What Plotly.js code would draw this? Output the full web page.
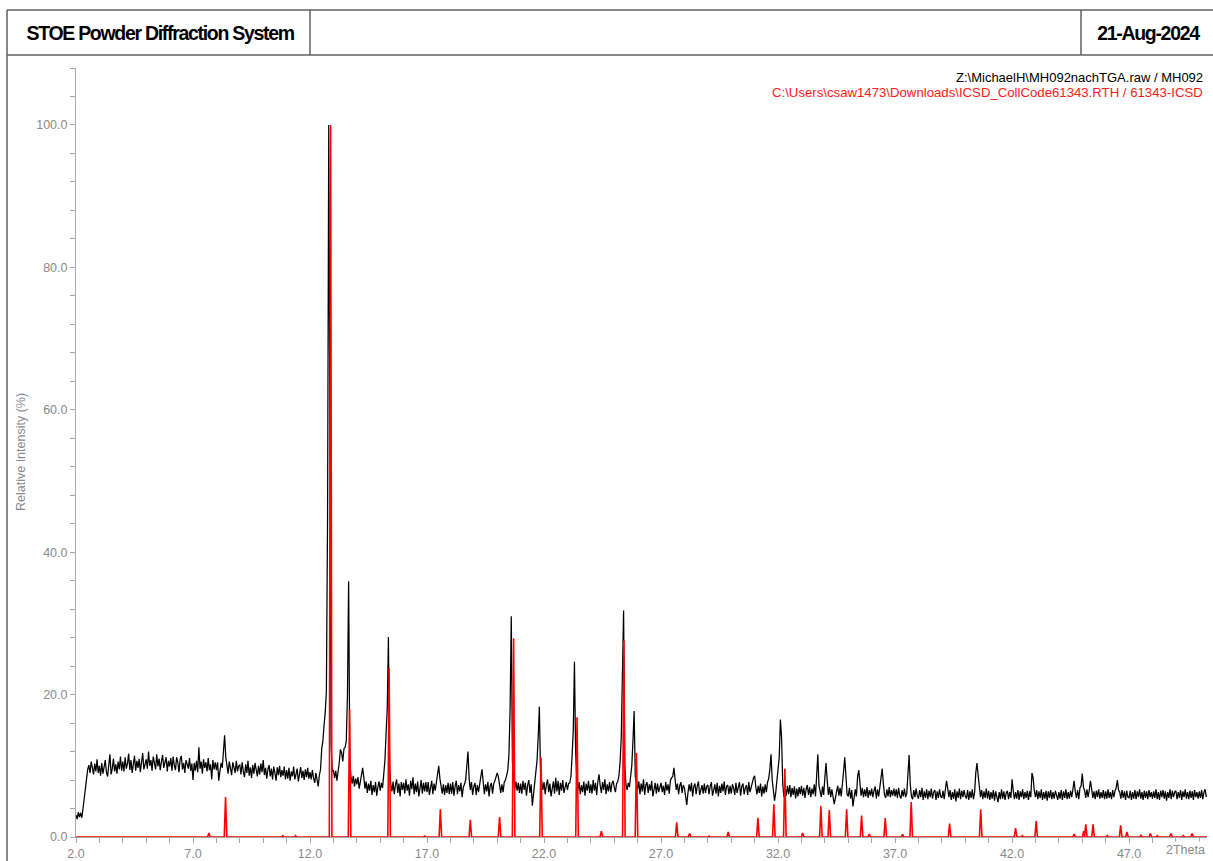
<!DOCTYPE html>
<html>
<head>
<meta charset="utf-8">
<script src="https://cdn.plot.ly/plotly-3.0.1.min.js"></script>
<style>html,body{margin:0;padding:0;background:#fff;}#chart{width:1213px;height:861px;}</style>
</head>
<body>
<div id="chart"></div>
<script>
// ---- Data ----
// Measured pattern (black): 2Theta grid start / step, relative intensity values
const measStart = 2.0;
const measStep = 0.05;
const measIntensity = [
/* 2 */ 3.1,2.5,3.5,2.8,3.4,2.7,4.0,5.4,7.0,8.3,9.5,10.1,9.0,10.6,9.4,8.8,10.3,9.2,10.9,9.0,
/* 3 */ 10.0,8.6,10.4,8.9,9.8,10.8,9.1,8.5,10.1,11.6,8.8,9.6,11.0,9.2,10.2,8.9,10.6,9.5,11.3,9.3,
/* 4 */ 10.6,9.2,11.2,9.6,10.3,11.7,9.4,10.8,9.0,10.1,11.4,9.3,10.7,9.7,11.0,9.1,10.4,11.8,9.5,10.2,
/* 5 */ 10.9,9.6,12.0,10.0,10.8,9.3,11.3,10.4,9.5,11.6,9.9,11.0,9.4,10.6,11.5,9.7,10.3,11.2,9.2,10.7,
/* 6 */ 9.9,11.1,9.3,11.3,10.1,9.4,11.2,10.5,9.1,10.9,11.4,9.5,10.4,9.0,10.8,10.0,9.6,11.1,9.3,10.3,
/* 7 */ 8.0,10.4,9.3,10.7,9.1,12.6,9.6,10.6,8.9,10.9,9.7,10.5,9.2,11.1,9.4,10.2,8.1,10.8,9.5,10.5,
/* 8 */ 9.4,10.5,7.9,9.2,10.4,9.7,11.5,14.3,11.2,10.0,8.9,10.6,9.4,8.7,10.5,9.5,9.0,10.7,9.2,10.0,
/* 9 */ 10.1,8.8,10.5,9.2,8.4,10.2,9.0,10.7,8.6,9.8,8.3,10.1,8.9,10.4,9.4,8.5,10.0,8.8,10.3,9.1,
/*10 */ 10.8,8.7,9.7,8.2,9.5,10.1,8.5,9.6,8.1,9.9,9.0,7.9,9.8,8.7,10.0,8.4,9.4,8.6,9.9,8.1,
/*11 */ 9.4,8.2,9.7,7.9,9.2,8.5,9.9,8.1,8.8,9.6,7.8,9.0,9.8,8.3,9.3,8.0,9.5,8.4,9.7,8.2,
/*12 */ 9.1,8.1,9.4,8.3,7.6,9.0,8.0,7.1,8.7,9.5,12.4,13.5,15.7,17.5,20.5,45.0,100.0,48.0,13.0,9.2,
/*13 */ 9.4,8.3,9.3,7.9,9.0,10.5,12.3,11.8,10.6,12.4,12.6,13.5,20.0,35.9,11.0,8.4,7.5,8.6,7.1,8.2,
/*14 */ 7.4,8.4,6.8,8.0,8.8,9.7,8.3,6.8,7.8,6.2,7.5,6.5,7.9,5.9,7.3,6.3,7.7,5.8,7.0,7.8,
/*15 */ 6.5,7.6,6.9,8.4,10.7,14.5,18.0,28.1,10.0,7.4,6.4,7.8,6.0,7.3,8.1,6.2,7.5,5.7,7.7,6.6,
/*16 */ 7.6,6.1,8.1,6.5,7.4,5.8,7.9,6.7,8.4,6.0,7.5,6.3,7.8,5.7,7.2,8.0,6.1,7.6,6.4,7.7,
/*17 */ 6.3,7.7,5.9,7.2,7.9,6.0,7.5,6.5,7.8,8.5,10.0,8.2,7.0,6.1,7.4,5.9,7.3,6.2,7.6,6.0,
/*18 */ 7.5,6.1,7.7,5.8,7.1,7.9,6.0,7.3,6.4,7.6,5.6,7.0,7.4,8.0,10.0,12.0,8.2,6.6,7.7,5.9,
/*19 */ 7.1,7.6,5.9,7.3,6.3,7.8,8.5,9.5,7.3,6.0,7.4,6.4,7.7,5.7,7.2,7.6,6.1,7.5,7.9,8.4,
/*20 */ 9.0,8.4,7.0,6.2,7.4,6.3,7.7,8.0,8.6,9.4,11.5,18.0,31.0,10.5,8.0,6.8,7.8,6.5,7.6,6.2,
/*21 */ 7.5,6.1,7.9,6.6,7.6,5.8,7.3,8.0,6.2,7.4,4.4,6.0,7.5,8.8,10.7,14.0,18.3,9.0,7.3,6.6,
/*22 */ 7.7,6.0,7.3,8.1,6.3,7.5,5.7,7.1,7.8,6.1,8.3,6.4,7.9,5.9,7.6,6.5,8.0,6.2,7.2,7.7,
/*23 */ 6.6,7.5,7.6,8.5,11.5,15.0,24.6,12.0,8.0,6.7,7.7,6.0,7.3,6.3,7.8,5.8,7.5,6.5,7.9,6.2,
/*24 */ 7.4,6.1,8.0,6.5,7.6,5.9,7.8,8.8,7.2,6.2,7.7,6.6,8.1,6.0,7.4,6.4,7.7,6.3,7.5,7.9,
/*25 */ 7.0,6.3,7.5,7.8,8.6,10.5,14.0,21.0,31.8,10.0,7.4,6.6,7.6,7.0,8.3,10.0,13.5,17.7,8.5,7.2,
/*26 */ 6.7,7.8,6.0,7.5,6.4,8.1,5.9,7.3,7.7,6.2,7.4,6.5,7.9,5.7,7.1,7.6,6.1,7.5,6.3,7.2,
/*27 */ 7.6,6.3,7.2,5.9,7.7,6.5,7.4,6.1,7.9,8.3,8.5,9.7,7.6,6.6,7.5,6.0,7.2,7.7,6.2,7.3,
/*28 */ 6.9,5.8,4.5,6.2,7.4,6.4,7.6,5.7,7.1,7.5,6.0,7.2,7.8,5.9,6.9,7.3,6.1,7.5,6.2,7.1,
/*29 */ 7.3,6.0,7.1,7.7,5.8,6.9,7.4,6.1,7.6,5.7,7.2,6.2,7.5,6.4,7.8,5.9,7.1,7.3,6.0,7.2,
/*30 */ 6.1,7.4,6.9,5.9,7.6,6.2,7.2,7.7,5.8,7.1,7.5,6.0,6.9,7.3,5.9,7.7,6.3,7.2,7.6,8.3,
/*31 */ 8.6,7.0,6.0,7.2,6.2,7.5,5.7,7.1,6.1,7.4,6.3,7.7,8.2,9.5,11.6,8.0,6.5,5.1,6.2,8.0,
/*32 */ 9.0,11.2,16.5,14.0,7.5,5.6,6.9,5.8,7.2,6.0,7.3,5.6,6.9,5.9,7.1,5.4,6.8,5.7,7.0,6.0,
/*33 */ 7.2,5.8,6.9,5.5,6.7,7.3,5.9,7.0,5.6,6.8,6.0,7.4,5.7,8.5,11.6,7.2,6.1,5.6,7.1,5.9,
/*34 */ 8.3,10.4,8.0,5.9,7.0,5.6,6.7,5.7,4.6,5.5,6.6,7.2,5.8,6.9,5.7,7.2,9.2,11.2,7.8,6.0,
/*35 */ 5.7,6.9,5.4,6.6,4.3,5.5,6.7,5.7,8.5,9.4,7.0,5.8,6.9,5.6,6.7,5.7,7.0,5.5,6.6,5.8,
/*36 */ 6.8,5.6,6.5,7.1,5.4,6.7,5.7,6.9,8.3,9.6,7.5,5.9,5.5,6.7,5.7,7.0,5.6,6.6,5.8,6.8,
/*37 */ 5.7,6.7,5.5,6.9,5.8,5.4,6.6,5.7,6.8,5.6,6.1,8.5,11.5,7.4,5.7,5.3,6.6,5.6,6.8,5.8,
/*38 */ 5.4,6.6,5.6,6.9,5.2,6.4,5.5,6.7,5.3,6.5,5.6,6.8,5.4,6.3,6.6,5.2,6.4,5.5,6.7,5.7,
/*39 */ 5.5,6.5,5.3,6.7,7.9,6.8,5.6,6.6,5.2,6.3,5.4,6.7,5.0,6.4,5.5,6.8,5.3,6.5,5.6,6.6,
/*40 */ 5.7,5.4,6.6,5.2,6.4,5.5,6.7,5.3,6.3,9.0,10.4,8.7,6.8,5.6,6.6,5.3,6.4,5.5,6.8,5.4,
/*41 */ 6.5,5.2,6.3,5.4,6.6,5.1,6.4,5.5,4.9,6.3,5.3,6.7,5.4,6.4,5.2,6.2,6.5,5.3,6.3,5.5,
/*42 */ 8.1,6.5,5.3,6.3,5.4,6.6,5.2,6.4,5.6,6.7,5.3,6.3,5.5,6.5,5.2,6.4,5.6,9.0,8.3,6.5,
/*43 */ 5.6,6.6,5.3,6.4,5.5,6.7,5.2,6.3,5.4,6.5,5.1,6.4,5.5,6.6,5.3,6.3,5.4,6.5,5.6,5.2,
/*44 */ 6.3,5.4,6.6,5.2,6.4,5.5,6.7,5.3,6.3,5.4,6.5,5.6,6.7,7.9,6.4,5.5,6.6,5.3,6.9,7.2,
/*45 */ 8.9,7.0,6.5,5.5,6.7,5.6,6.6,7.9,6.8,5.5,6.4,5.3,6.5,5.6,6.7,5.4,6.3,5.5,6.6,5.3,
/*46 */ 6.4,5.4,6.7,5.5,6.3,5.3,6.6,5.6,6.5,6.9,8.0,6.6,6.3,5.4,6.6,5.5,6.4,5.2,6.5,5.6,
/*47 */ 5.5,6.5,5.2,6.3,5.4,6.6,5.3,6.4,5.6,6.7,5.4,6.3,5.2,6.5,5.5,6.4,5.3,6.6,5.6,6.3,
/*48 */ 5.4,6.4,5.5,6.7,5.3,6.3,5.2,6.5,5.6,6.6,5.4,6.4,5.1,6.3,5.5,6.7,5.3,6.5,5.6,6.3,
/*49 */ 6.5,5.3,6.3,5.5,6.6,5.2,6.4,5.6,6.7,5.4,6.3,5.3,6.5,5.5,6.4,5.2,6.6,5.6,6.3,5.4,
/*50 */ 6.4,5.5,6.6,5.3,6.3,6.7,5.6
];

// Reference pattern (red, ICSD 61343): peak positions (2Theta) and relative intensities
const refPos = [7.68,8.39,10.84,11.38,12.88,13.69,15.38,16.90,17.57,18.85,20.10,20.70,21.87,23.41,24.45,25.41,25.95,
  27.67,28.22,29.06,29.87,31.14,31.82,32.29,33.05,33.83,34.19,34.93,35.57,35.90,36.58,37.32,37.69,39.33,40.66,
  42.15,42.44,43.03,43.72,44.65,45.06,45.15,45.46,46.07,46.64,46.91,47.51,47.91,48.21,48.79,49.32,49.69];
const refInt = [0.56,5.6,0.2,0.2,100,17.9,23.7,0.15,3.9,2.4,2.8,27.9,11.2,16.8,0.8,27.6,11.8,
  2.06,0.5,0.15,0.7,2.7,4.6,9.6,0.56,4.35,3.8,3.9,3.0,0.4,2.67,0.37,4.9,1.9,3.9,
  1.26,0.2,2.25,0.1,0.42,0.8,1.78,1.78,0.2,1.64,0.7,0.23,0.5,0.2,0.5,0.2,0.5];

const xRange = [2.0, 50.33];
const yRange = [0, 108];
const titleLeft = 'STOE Powder Diffraction System';
const titleRight = '21-Aug-2024';
const legendMeas = 'Z:\\MichaelH\\MH092nachTGA.raw / MH092';
const legendRef = 'C:\\Users\\csaw1473\\Downloads\\ICSD_CollCode61343.RTH / 61343-ICSD';
const yTitle = 'Relative Intensity (%)';
const xUnit = '2Theta';

// ---- Build traces ----
const measX = measIntensity.map((_, i) => +(measStart + i * measStep).toFixed(2));
const halfW = 0.055;
const refX = [xRange[0]], refY = [0];
refPos.forEach((p, i) => { refX.push(p - halfW, p, p + halfW); refY.push(0, refInt[i], 0); });
refX.push(xRange[1]); refY.push(0);

const traces = [
  {x: measX, y: measIntensity, type: 'scatter', mode: 'lines', line: {color: '#000000', width: 1.25}, hoverinfo: 'skip'},
  {x: refX, y: refY, type: 'scatter', mode: 'lines', line: {color: '#ff0000', width: 1.6}, hoverinfo: 'skip'}
];

// ---- Layout helpers (pixel -> paper) ----
const W = 1213, H = 861, ML = 76, MR = 6, MT = 68, MB = 24;
const PW = W - ML - MR, PH = H - MT - MB;
const px = v => (v - ML) / PW;
const py = v => (H - MB - v) / PH;
const frame = {color: '#606060', width: 1.5};
const FONT = 'Liberation Sans, Arial, Helvetica, sans-serif';
const grey = '#8a8a8a', axisGrey = '#a8a8a8';

const layout = {
  width: W, height: H,
  margin: {l: ML, r: MR, t: MT, b: MB, pad: 0},
  paper_bgcolor: '#ffffff', plot_bgcolor: '#ffffff',
  showlegend: false,
  font: {family: FONT, size: 12.5, color: grey},
  xaxis: {
    range: xRange, tick0: 2, dtick: 5, tickformat: '.1f',
    ticks: 'outside', ticklen: 5, tickwidth: 1, tickcolor: axisGrey,
    showline: true, linecolor: axisGrey, linewidth: 1,
    showgrid: false, zeroline: false, fixedrange: true,
    tickfont: {family: FONT, size: 12.5, color: grey},
    minor: {tick0: 2, dtick: 1, ticks: 'outside', ticklen: 5, tickwidth: 1, tickcolor: axisGrey, showgrid: false}
  },
  yaxis: {
    range: yRange, tick0: 0, dtick: 20, tickformat: '.1f',
    ticks: 'outside', ticklen: 5, tickwidth: 1, tickcolor: axisGrey,
    showline: true, linecolor: axisGrey, linewidth: 1,
    showgrid: false, zeroline: false, fixedrange: true,
    tickfont: {family: FONT, size: 12.5, color: grey},
    minor: {tick0: 0, dtick: 4, ticks: 'outside', ticklen: 5, tickwidth: 1, tickcolor: axisGrey, showgrid: false}
  },
  shapes: [
    {type: 'line', xref: 'paper', yref: 'paper', x0: px(7), x1: px(1213), y0: py(10), y1: py(10), line: frame},
    {type: 'line', xref: 'paper', yref: 'paper', x0: px(7), x1: px(1213), y0: py(55), y1: py(55), line: frame},
    {type: 'line', xref: 'paper', yref: 'paper', x0: px(7), x1: px(7), y0: py(10), y1: py(861), line: frame},
    {type: 'line', xref: 'paper', yref: 'paper', x0: px(310), x1: px(310), y0: py(10), y1: py(55), line: frame},
    {type: 'line', xref: 'paper', yref: 'paper', x0: px(1081), x1: px(1081), y0: py(10), y1: py(55), line: frame}
  ],
  annotations: [
    {text: '<b>' + titleLeft + '</b>', xref: 'paper', yref: 'paper', x: px(160), y: py(33), xanchor: 'center', yanchor: 'middle', showarrow: false, font: {family: FONT, size: 19.5, color: '#000'}},
    {text: '<b>' + titleRight + '</b>', xref: 'paper', yref: 'paper', x: px(1148), y: py(33), xanchor: 'center', yanchor: 'middle', showarrow: false, font: {family: FONT, size: 19.5, color: '#000'}},
    {text: legendMeas, xref: 'paper', yref: 'paper', x: px(1205), y: py(77), xanchor: 'right', yanchor: 'middle', showarrow: false, font: {family: FONT, size: 13, color: '#000'}},
    {text: legendRef, xref: 'paper', yref: 'paper', x: px(1205), y: py(92), xanchor: 'right', yanchor: 'middle', showarrow: false, font: {family: FONT, size: 13.2, color: '#ff1a1a'}},
    {text: yTitle, xref: 'paper', yref: 'paper', x: px(21), y: py(452), xanchor: 'center', yanchor: 'middle', textangle: -90, showarrow: false, font: {family: FONT, size: 12.5, color: grey}},
    {text: xUnit, xref: 'paper', yref: 'paper', x: px(1207), y: py(850), xanchor: 'right', yanchor: 'middle', showarrow: false, bgcolor: '#ffffff', font: {family: FONT, size: 12.5, color: grey}}
  ]
};

Plotly.newPlot('chart', traces, layout, {displayModeBar: false, staticPlot: true}).then(gd => {
  // tighter letter spacing for the condensed header titles
  gd.querySelectorAll('text.annotation-text').forEach(t => {
    const s = t.textContent;
    if (s === titleLeft || s === titleRight) t.style.letterSpacing = '-1.3px';
  });
});
</script>
</body>
</html>
